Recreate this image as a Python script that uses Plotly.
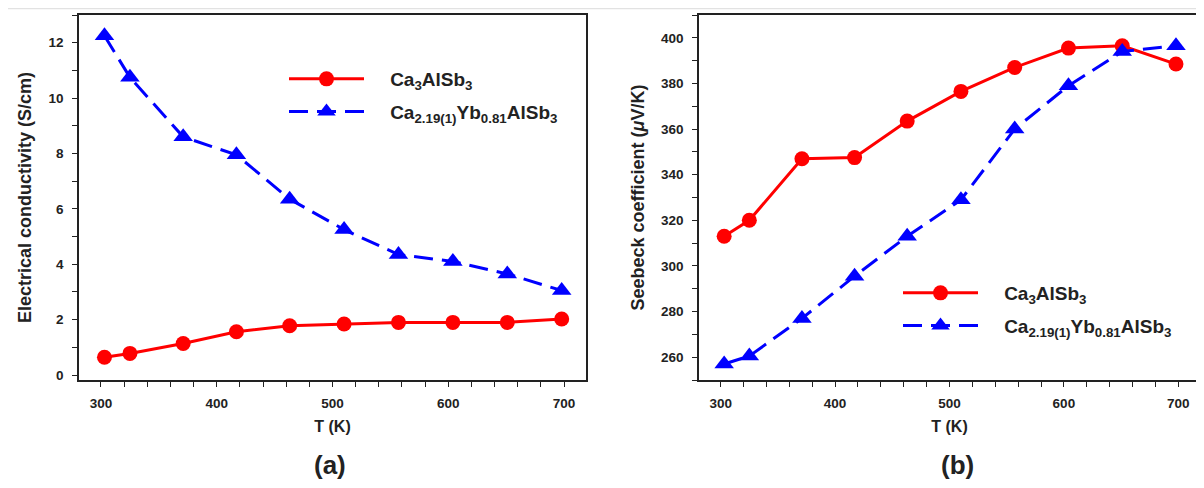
import plotly.graph_objects as go

temps = [303, 325, 371, 417, 463, 510, 557, 604, 651, 698]
sigma_ca3 = [0.64, 0.78, 1.14, 1.56, 1.78, 1.84, 1.90, 1.90, 1.90, 2.02]
sigma_yb = [12.25, 10.75, 8.6, 7.95, 6.35, 5.25, 4.35, 4.1, 3.65, 3.05]
seebeck_ca3 = [313, 320, 347, 347.5, 363.5, 376.5, 387, 395.5, 396.5, 388.5]
seebeck_yb = [257, 260.5, 277, 295.5, 313, 329, 360, 379, 394, 396.5]

PAD = "&nbsp;&nbsp;&nbsp;&nbsp;"
name_ca3 = PAD + "<b>Ca<sub>3</sub>AlSb<sub>3</sub></b>"
name_yb = PAD + "<b>Ca<sub>2.19(1)</sub>Yb<sub>0.81</sub>AlSb<sub>3</sub></b>"

RED = "#ff0000"
BLUE = "#0000ff"
FONT = "Liberation Sans, Arial, sans-serif"
# the page adds an 8px body margin, so the figure is 8px smaller and all
# positions below are page positions minus 8
W, H = 1196, 480

fig = go.Figure()

def add_pair(xa, ya, y1, y2, leg):
    fig.add_trace(go.Scatter(
        x=temps, y=y1, xaxis=xa, yaxis=ya, name=name_ca3, legend=leg,
        legendgroup=leg + "a", mode="lines+markers",
        line=dict(color=RED, width=3),
        marker=dict(symbol="circle", size=15, color=RED)))
    fig.add_trace(go.Scatter(
        x=temps, y=y2, xaxis=xa, yaxis=ya, name=name_yb, legend=leg,
        legendgroup=leg + "b", mode="lines+markers",
        line=dict(color=BLUE, width=3, dash="19px,9px"),
        marker=dict(symbol="triangle-up", size=17, color=BLUE)))

add_pair("x", "y", sigma_ca3, sigma_yb, "legend")
add_pair("x2", "y2", seebeck_ca3, seebeck_yb, "legend2")

ydom = [1 - 372 / H, 1 - 7 / H]
axcommon = dict(showline=True, linecolor="#222", linewidth=1.5, mirror=True,
                ticks="outside", ticklen=5, tickwidth=1.2, tickcolor="#222",
                showgrid=False, zeroline=False, automargin=False,
                tickfont=dict(family=FONT, size=13.5, color="#222", weight="bold"))
xcommon = dict(axcommon, range=[281, 719], dtick=100, tick0=0,
               minor=dict(dtick=20, ticks="outside", ticklen=5, tickcolor="#222", tickwidth=1.2),
               ticklabelstandoff=5,
               title=dict(text="<b>T (K)</b>", font=dict(family=FONT, size=16, color="#222"), standoff=11))

fig.update_layout(
    width=W, height=H,
    margin=dict(l=0, r=0, t=0, b=0, autoexpand=False),
    paper_bgcolor="white", plot_bgcolor="white",
    font=dict(family=FONT, color="#222"),
    xaxis=dict(xcommon, domain=[71 / W, 578 / W], anchor="y"),
    yaxis=dict(axcommon, domain=ydom, anchor="x", range=[-0.18, 13.0], dtick=2,
               minor=dict(dtick=1, ticks="outside", ticklen=5, tickcolor="#222", tickwidth=1.2),
               ticklabelstandoff=6,
               title=dict(text="<b>Electrical conductivity (S/cm)</b>",
                          font=dict(family=FONT, size=18, color="#222"), standoff=12)),
    xaxis2=dict(xcommon, domain=[691 / W, 1192 / W], anchor="y2"),
    yaxis2=dict(axcommon, domain=ydom, anchor="x2", range=[250, 410], dtick=20,
                minor=dict(dtick=10, ticks="outside", ticklen=5, tickcolor="#222", tickwidth=1.2),
                ticklabelstandoff=6,
                title=dict(text="<b>Seebeck coefficient (<i>μ</i>V/K)</b>",
                           font=dict(family=FONT, size=18, color="#222"), standoff=12)),
    legend=dict(x=276 / W, y=1 - 52 / H, xanchor="left", yanchor="top",
                bgcolor="rgba(0,0,0,0)", itemwidth=75, tracegroupgap=5,
                font=dict(family=FONT, size=19, color="#222")),
    legend2=dict(x=890 / W, y=1 - 266 / H, xanchor="left", yanchor="top",
                 bgcolor="rgba(0,0,0,0)", itemwidth=75, tracegroupgap=5,
                 font=dict(family=FONT, size=19, color="#222")),
    showlegend=True,
    shapes=[dict(type="line", xref="paper", yref="paper", x0=0, x1=1, y0=1 - 0.5 / H, y1=1 - 0.5 / H,
                 line=dict(color="#e2e2e2", width=1.5))],
    annotations=[
        dict(text="<b>(a)</b>", x=322 / W, y=1 - 457 / H, xref="paper", yref="paper",
             xanchor="center", yanchor="middle",
             showarrow=False, font=dict(family=FONT, size=26, color="#222")),
        dict(text="<b>(b)</b>", x=949 / W, y=1 - 457 / H, xref="paper", yref="paper",
             xanchor="center", yanchor="middle",
             showarrow=False, font=dict(family=FONT, size=26, color="#222")),
    ],
)

fig.write_html("out.html")
